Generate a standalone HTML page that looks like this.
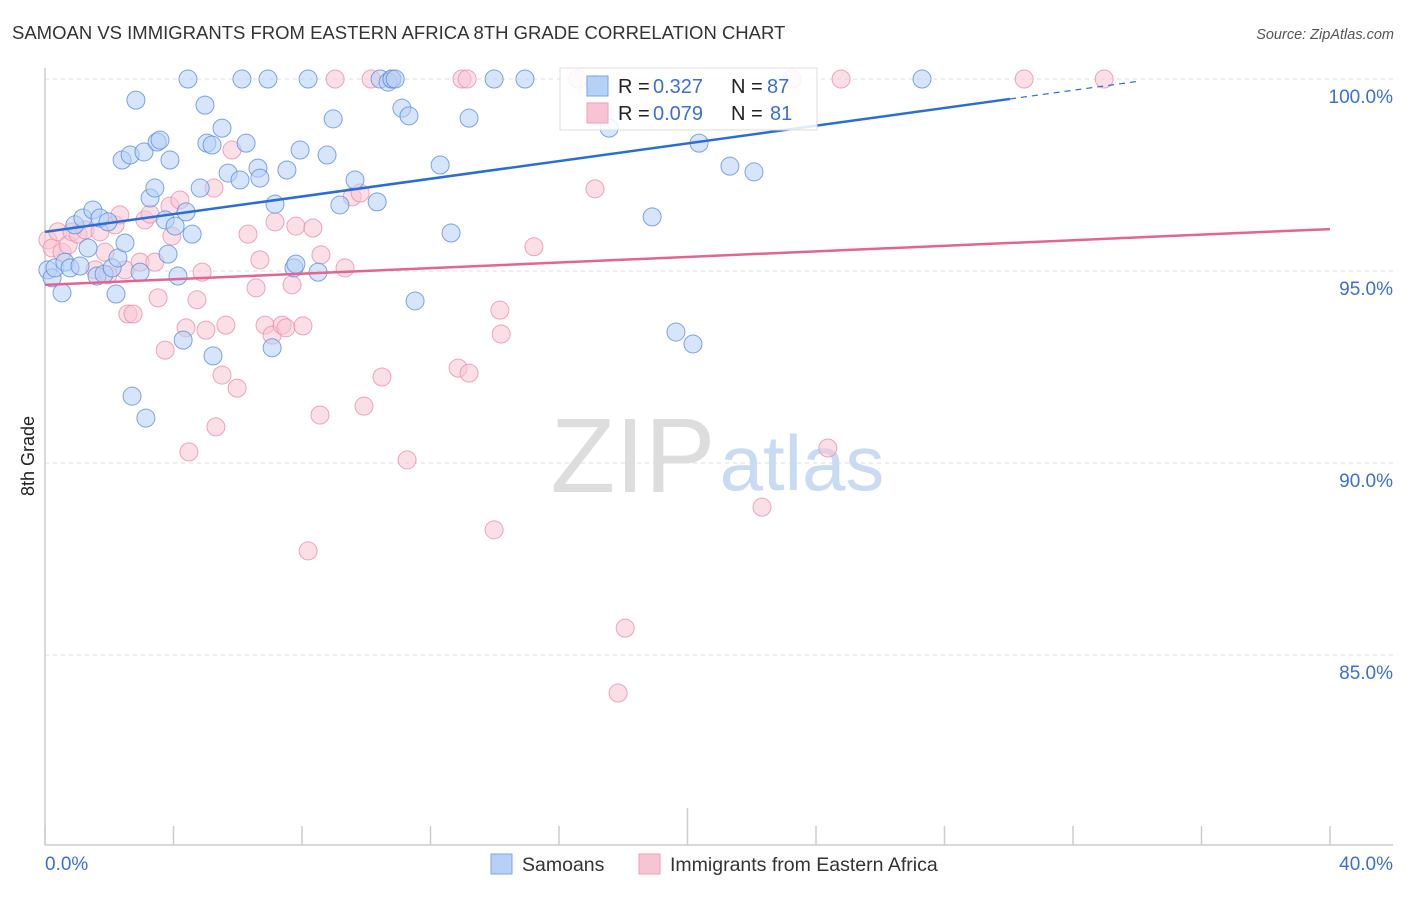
<!DOCTYPE html>
<html><head><meta charset="utf-8"><style>
body{margin:0;background:#fff;font-family:"Liberation Sans",sans-serif;}
svg text{font-family:"Liberation Sans",sans-serif;}
</style></head><body>
<svg id="chart" width="1406" height="892" xmlns="http://www.w3.org/2000/svg">
<text x="12" y="39" font-size="18.5" fill="#333">SAMOAN VS IMMIGRANTS FROM EASTERN AFRICA 8TH GRADE CORRELATION CHART</text>
<text x="1394" y="39" font-size="14.5" fill="#555" font-style="italic" text-anchor="end">Source: ZipAtlas.com</text>
<text x="0" y="0" font-size="18" fill="#222" transform="translate(34,456) rotate(-90)" text-anchor="middle">8th Grade</text>
<g id="grid"></g>
<text x="633" y="492" font-size="106" fill="#ddd" font-family="Liberation Serif" text-anchor="middle">ZIP</text>
<text x="802" y="490" font-size="78" fill="#c9daf3" text-anchor="middle">atlas</text>
<g id="points"></g>
<g id="lines"></g>
<g>
<rect x="560" y="68" width="257" height="62" fill="#fff" fill-opacity="0.85" stroke="#ddd"/>
<rect x="587" y="76" width="21" height="20" fill="#b7d0f5" stroke="#7aa6e6"/>
<text x="618" y="93" font-size="20" fill="#222">R =</text>
<text x="653" y="93" font-size="20" fill="#3b6fd4">0.327</text>
<text x="731" y="93" font-size="20" fill="#222">N =</text>
<text x="767" y="93" font-size="20" fill="#3b6fd4">87</text>
<rect x="587" y="103" width="21" height="20" fill="#f8c4d4" stroke="#ee9fb7"/>
<text x="618" y="120" font-size="20" fill="#222">R =</text>
<text x="653" y="120" font-size="20" fill="#3b6fd4">0.079</text>
<text x="731" y="120" font-size="20" fill="#222">N =</text>
<text x="770" y="120" font-size="20" fill="#3b6fd4">81</text>
</g>
<g>
<rect x="491" y="854" width="21" height="20" fill="#b7d0f5" stroke="#7aa6e6"/>
<text x="522" y="871" font-size="19.5" fill="#333">Samoans</text>
<rect x="639" y="854" width="21" height="20" fill="#f8c4d4" stroke="#ee9fb7"/>
<text x="670" y="871" font-size="19.5" fill="#333">Immigrants from Eastern Africa</text>
</g>
<script>
const xTicks=[0,4,8,12,16,20,24,28,32,36,40];
const yTicks=[85,90,95,100];
const yTickLabels=["85.0%","90.0%","95.0%","100.0%"];
const xLabels=["0.0%","40.0%"];
const blueX=[0.09,0.22,0.31,0.53,0.62,0.78,0.93,1.09,1.18,1.34,1.49,1.62,1.71,1.84,1.96,2.09,2.21,2.27,2.40,2.49,2.65,2.71,2.83,2.96,3.08,3.14,3.27,3.42,3.49,3.58,3.74,3.83,3.89,4.05,4.14,4.30,4.39,4.45,4.58,4.83,4.98,5.04,5.20,5.23,5.51,5.70,6.07,6.13,6.26,6.63,6.69,6.94,7.07,7.16,7.53,7.75,7.81,7.94,8.19,8.50,8.78,8.97,9.18,9.65,10.34,10.43,10.68,10.80,10.90,11.11,11.33,11.52,12.30,12.64,13.20,13.98,14.94,17.56,18.90,19.64,20.17,20.36,21.32,22.07,27.30,17.12];
const blueY=[95.03,94.82,95.08,94.43,95.23,95.08,96.20,95.13,96.38,95.60,96.59,94.87,96.38,94.92,96.28,95.08,94.40,95.34,97.89,95.73,98.02,91.74,99.45,94.97,98.10,91.17,96.90,97.16,98.36,98.41,96.33,95.44,97.89,96.17,94.87,93.20,96.54,100,95.96,97.16,99.32,98.33,98.28,92.79,98.72,97.55,97.37,100,98.33,97.68,97.42,100,93.00,96.74,97.63,95.08,95.18,98.15,100,94.97,98.02,98.96,96.72,97.37,96.80,100,99.92,100,100,99.24,99.04,94.22,97.76,95.99,98.98,100,100,98.72,96.41,93.41,93.10,98.33,97.73,97.58,100,99.87];
const pinkX=[0.09,0.22,0.40,0.53,0.72,0.84,1.03,1.25,1.56,1.71,1.87,1.96,2.18,2.33,2.49,2.58,2.74,2.96,3.11,3.27,3.42,3.52,3.74,3.89,3.95,4.20,4.39,4.48,4.73,4.89,5.01,5.26,5.32,5.51,5.63,5.82,5.98,6.32,6.57,6.69,6.85,7.07,7.16,7.38,7.50,7.69,7.81,8.03,8.19,8.34,8.56,8.59,9.34,9.56,9.81,9.93,10.15,10.49,10.77,11.27,12.86,12.98,13.14,13.20,13.98,14.16,14.20,15.22,16.59,17.12,17.84,18.06,22.32,23.25,24.37,24.78,30.48,32.97,9.03];
const pinkY=[95.81,95.60,96.02,95.49,95.68,96.02,95.96,96.07,95.03,96.02,95.49,94.90,96.20,96.46,95.03,93.88,93.88,95.23,96.33,96.48,95.23,94.30,92.94,96.69,95.91,96.85,93.52,90.29,94.25,94.97,93.46,97.16,90.94,92.29,93.59,98.15,91.95,95.96,94.56,95.29,93.59,93.33,96.28,93.59,93.52,94.64,96.17,93.57,87.71,96.12,91.25,95.42,95.08,96.93,97.03,91.48,100,92.24,100,90.08,92.47,100,100,92.34,88.26,93.98,93.36,95.63,100,97.14,84.01,85.70,88.85,100,90.39,100,100,100,100];
const blueLine=[96.02,0.1152];
const pinkLine=[94.64,0.0363];
const NS="http://www.w3.org/2000/svg";
const X0=45,X1=1330,Y100=79,PXPER=38.4;
function sx(v){return X0+(v-0)/(40)*(X1-X0);}
function sy(v){return Y100+(100-v)*PXPER;}
function mk(tag,attrs,parent){const e=document.createElementNS(NS,tag);for(const k in attrs)e.setAttribute(k,attrs[k]);parent.appendChild(e);return e;}
const grid=document.getElementById('grid');
yTicks.forEach((t,i)=>{
 const l=mk('line',{x1:X0,x2:1393,y1:sy(t),y2:sy(t),stroke:'#ddd','stroke-dasharray':'4,4'},grid);
 
 
 const tx=mk('text',{x:1393,y:sy(t)+24,'font-size':19,fill:'#3b6fd4','text-anchor':'end'},grid);
 tx.textContent=yTickLabels[i];
 
 
});
const ax=mk('line',{x1:X0,x2:1393,y1:845,y2:845,stroke:'#ccc','stroke-width':1.5},grid);


const ay=mk('line',{x1:X0,x2:X0,y1:68,y2:845,stroke:'#ccc','stroke-width':1.5},grid);


xTicks.forEach((t,i)=>{
 const tk=mk('line',{x1:sx(t),x2:sx(t),y1:(i===5?808:826),y2:845,stroke:'#ccc','stroke-width':1.5},grid);
 
 
});
[[0,'start'],[40,'end']].forEach((p,i)=>{
 const tx=mk('text',{x:i===0?45:1393,y:870,'font-size':19,fill:'#3b6fd4','text-anchor':p[1]},grid);
 tx.textContent=xLabels[i];
 
 
});
const pts=document.getElementById('points');
function series(xs,ys,fill,stroke,name){
 xs.forEach((x,i)=>{
  const c=mk('circle',{cx:sx(x),cy:sy(ys[i]),r:9,fill:fill,'fill-opacity':0.55,stroke:stroke,'stroke-opacity':0.8,'stroke-width':1},pts);
  
  
 });
}
series(pinkX,pinkY,'#f8c4d4','#ec8fab','point-eastern-africa');
series(blueX,blueY,'#b7d0f5','#5b8fe0','point-samoan');
const lines=document.getElementById('lines');
const bl=mk('line',{x1:sx(0),y1:sy(blueLine[0]),x2:sx(30.04),y2:sy(blueLine[0]+blueLine[1]*30.04),stroke:'#2a6dd6','stroke-width':2.5},lines);


const bd=mk('line',{x1:sx(30.04),y1:sy(blueLine[0]+blueLine[1]*30.04),x2:sx(34.1),y2:sy(blueLine[0]+blueLine[1]*34.1),stroke:'#2a6dd6','stroke-width':1.2,'stroke-dasharray':'6,5'},lines);


const pl=mk('line',{x1:sx(0),y1:sy(pinkLine[0]),x2:sx(40),y2:sy(pinkLine[0]+pinkLine[1]*40),stroke:'#e5648f','stroke-width':2.5},lines);


</script>
</svg>
</body></html>
